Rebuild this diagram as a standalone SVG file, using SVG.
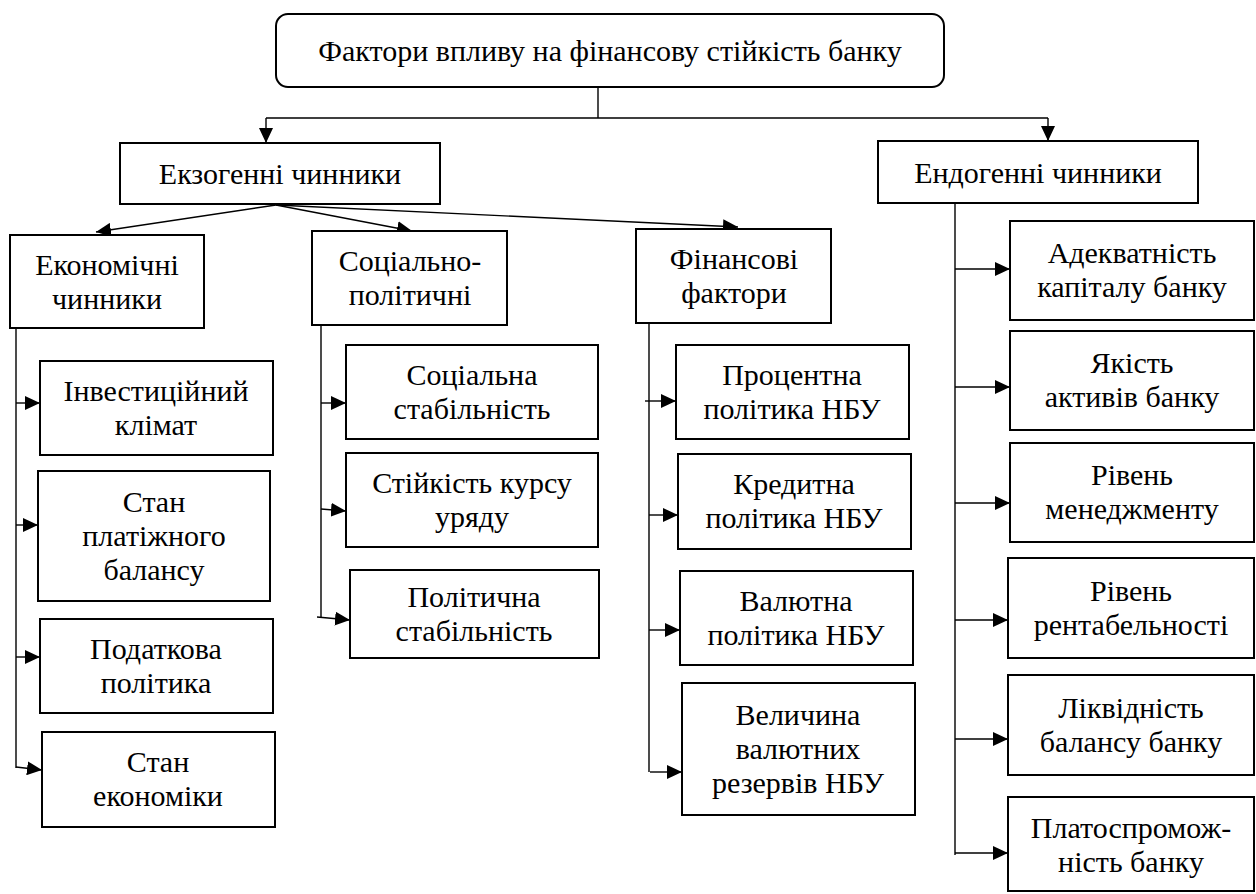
<svg xmlns="http://www.w3.org/2000/svg" width="1256" height="894" viewBox="0 0 1256 894">
<defs>
<marker id="ah" markerUnits="userSpaceOnUse" markerWidth="15" markerHeight="14" refX="15" refY="7" orient="auto">
<path d="M0,0 L15,7 L0,14 Z" fill="#000"/>
</marker>
</defs>
<rect width="1256" height="894" fill="#fff"/>
<g id="connectors" fill="none" stroke="#000" stroke-width="1.4">
<path d="M598,87 V118 M266,118 H1048 M16,328 V768 M321,325 V618 M649,323 V772 M955,203 V855"/>
<g marker-end="url(#ah)">
<path d="M266,118 V143"/>
<path d="M1048,118 V141"/>
<path d="M276,205 L96,232"/>
<path d="M276,205 L412,231"/>
<path d="M276,205 L738,227"/>
<path d="M16,403 H40"/>
<path d="M16,525 H38"/>
<path d="M16,657 H40"/>
<path d="M16,767 L42,770"/>
<path d="M321,403 H346"/>
<path d="M321,509 L346,511"/>
<path d="M317,617 L350,620"/>
<path d="M645,401 H676"/>
<path d="M649,515 H678"/>
<path d="M649,630 H680"/>
<path d="M650,772 H682"/>
<path d="M955,269 H1010"/>
<path d="M955,387 H1010"/>
<path d="M955,503 H1010"/>
<path d="M955,620 H1008"/>
<path d="M955,739 H1008"/>
<path d="M955,853 H1008"/>
</g>
</g>
<g id="boxes" fill="#fff" stroke="#000" stroke-width="2">
<rect id="root" x="276" y="14" width="668" height="73" rx="12"/>
<rect id="exo" x="120" y="143" width="320" height="61"/>
<rect id="endo" x="878" y="141" width="320" height="62"/>
<rect id="econ" x="10" y="235" width="194" height="93"/>
<rect id="socpol" x="312" y="231" width="195" height="94"/>
<rect id="fin" x="636" y="229" width="195" height="94"/>
<rect id="e1" x="40" y="361" width="233" height="94"/>
<rect id="e2" x="38" y="471" width="232" height="130"/>
<rect id="e3" x="40" y="619" width="233" height="94"/>
<rect id="e4" x="42" y="732" width="233" height="95"/>
<rect id="s1" x="346" y="345" width="252" height="94"/>
<rect id="s2" x="346" y="453" width="252" height="94"/>
<rect id="s3" x="350" y="570" width="249" height="88"/>
<rect id="f1" x="676" y="345" width="233" height="94"/>
<rect id="f2" x="678" y="454" width="233" height="95"/>
<rect id="f3" x="680" y="571" width="233" height="94"/>
<rect id="f4" x="682" y="683" width="233" height="132"/>
<rect id="n1" x="1010" y="221" width="244" height="99"/>
<rect id="n2" x="1010" y="331" width="244" height="99"/>
<rect id="n3" x="1010" y="443" width="244" height="99"/>
<rect id="n4" x="1008" y="558" width="246" height="100"/>
<rect id="n5" x="1008" y="675" width="246" height="100"/>
<rect id="n6" x="1008" y="797" width="246" height="94"/>
</g>
<g id="labels" fill="#000">
<text style="font-family:'Liberation Serif',serif;font-size:30px;text-anchor:middle" x="610" y="61">Фактори впливу на фінансову стійкість банку</text>
<text style="font-family:'Liberation Serif',serif;font-size:30px;text-anchor:middle" x="280" y="184">Екзогенні чинники</text>
<text style="font-family:'Liberation Serif',serif;font-size:30px;text-anchor:middle" x="1038" y="183">Ендогенні чинники</text>
<text style="font-family:'Liberation Serif',serif;font-size:30px;text-anchor:middle" x="107" y="275">Економічні</text>
<text style="font-family:'Liberation Serif',serif;font-size:30px;text-anchor:middle" x="107" y="309">чинники</text>
<text style="font-family:'Liberation Serif',serif;font-size:30px;text-anchor:middle" x="410" y="271">Соціально-</text>
<text style="font-family:'Liberation Serif',serif;font-size:30px;text-anchor:middle" x="410" y="305">політичні</text>
<text style="font-family:'Liberation Serif',serif;font-size:30px;text-anchor:middle" x="734" y="269">Фінансові</text>
<text style="font-family:'Liberation Serif',serif;font-size:30px;text-anchor:middle" x="734" y="303">фактори</text>
<text style="font-family:'Liberation Serif',serif;font-size:30px;text-anchor:middle" x="156" y="401">Інвестиційний</text>
<text style="font-family:'Liberation Serif',serif;font-size:30px;text-anchor:middle" x="156" y="435">клімат</text>
<text style="font-family:'Liberation Serif',serif;font-size:30px;text-anchor:middle" x="154" y="512">Стан</text>
<text style="font-family:'Liberation Serif',serif;font-size:30px;text-anchor:middle" x="154" y="546">платіжного</text>
<text style="font-family:'Liberation Serif',serif;font-size:30px;text-anchor:middle" x="154" y="580">балансу</text>
<text style="font-family:'Liberation Serif',serif;font-size:30px;text-anchor:middle" x="156" y="659">Податкова</text>
<text style="font-family:'Liberation Serif',serif;font-size:30px;text-anchor:middle" x="156" y="693">політика</text>
<text style="font-family:'Liberation Serif',serif;font-size:30px;text-anchor:middle" x="158" y="772">Стан</text>
<text style="font-family:'Liberation Serif',serif;font-size:30px;text-anchor:middle" x="158" y="806">економіки</text>
<text style="font-family:'Liberation Serif',serif;font-size:30px;text-anchor:middle" x="472" y="385">Соціальна</text>
<text style="font-family:'Liberation Serif',serif;font-size:30px;text-anchor:middle" x="472" y="419">стабільність</text>
<text style="font-family:'Liberation Serif',serif;font-size:30px;text-anchor:middle" x="472" y="493">Стійкість курсу</text>
<text style="font-family:'Liberation Serif',serif;font-size:30px;text-anchor:middle" x="472" y="527">уряду</text>
<text style="font-family:'Liberation Serif',serif;font-size:30px;text-anchor:middle" x="474" y="607">Політична</text>
<text style="font-family:'Liberation Serif',serif;font-size:30px;text-anchor:middle" x="474" y="641">стабільність</text>
<text style="font-family:'Liberation Serif',serif;font-size:30px;text-anchor:middle" x="792" y="385">Процентна</text>
<text style="font-family:'Liberation Serif',serif;font-size:30px;text-anchor:middle" x="792" y="419">політика НБУ</text>
<text style="font-family:'Liberation Serif',serif;font-size:30px;text-anchor:middle" x="794" y="494">Кредитна</text>
<text style="font-family:'Liberation Serif',serif;font-size:30px;text-anchor:middle" x="794" y="528">політика НБУ</text>
<text style="font-family:'Liberation Serif',serif;font-size:30px;text-anchor:middle" x="796" y="611">Валютна</text>
<text style="font-family:'Liberation Serif',serif;font-size:30px;text-anchor:middle" x="796" y="645">політика НБУ</text>
<text style="font-family:'Liberation Serif',serif;font-size:30px;text-anchor:middle" x="798" y="725">Величина</text>
<text style="font-family:'Liberation Serif',serif;font-size:30px;text-anchor:middle" x="798" y="759">валютних</text>
<text style="font-family:'Liberation Serif',serif;font-size:30px;text-anchor:middle" x="798" y="793">резервів НБУ</text>
<text style="font-family:'Liberation Serif',serif;font-size:30px;text-anchor:middle" x="1132" y="263">Адекватність</text>
<text style="font-family:'Liberation Serif',serif;font-size:30px;text-anchor:middle" x="1132" y="297">капіталу банку</text>
<text style="font-family:'Liberation Serif',serif;font-size:30px;text-anchor:middle" x="1132" y="373">Якість</text>
<text style="font-family:'Liberation Serif',serif;font-size:30px;text-anchor:middle" x="1132" y="407">активів банку</text>
<text style="font-family:'Liberation Serif',serif;font-size:30px;text-anchor:middle" x="1132" y="485">Рівень</text>
<text style="font-family:'Liberation Serif',serif;font-size:30px;text-anchor:middle" x="1132" y="519">менеджменту</text>
<text style="font-family:'Liberation Serif',serif;font-size:30px;text-anchor:middle" x="1131" y="601">Рівень</text>
<text style="font-family:'Liberation Serif',serif;font-size:30px;text-anchor:middle" x="1131" y="635">рентабельності</text>
<text style="font-family:'Liberation Serif',serif;font-size:30px;text-anchor:middle" x="1131" y="718">Ліквідність</text>
<text style="font-family:'Liberation Serif',serif;font-size:30px;text-anchor:middle" x="1131" y="752">балансу банку</text>
<text style="font-family:'Liberation Serif',serif;font-size:30px;text-anchor:middle" x="1131" y="838">Платоспромож-</text>
<text style="font-family:'Liberation Serif',serif;font-size:30px;text-anchor:middle" x="1131" y="872">ність банку</text>
</g>
</svg>
